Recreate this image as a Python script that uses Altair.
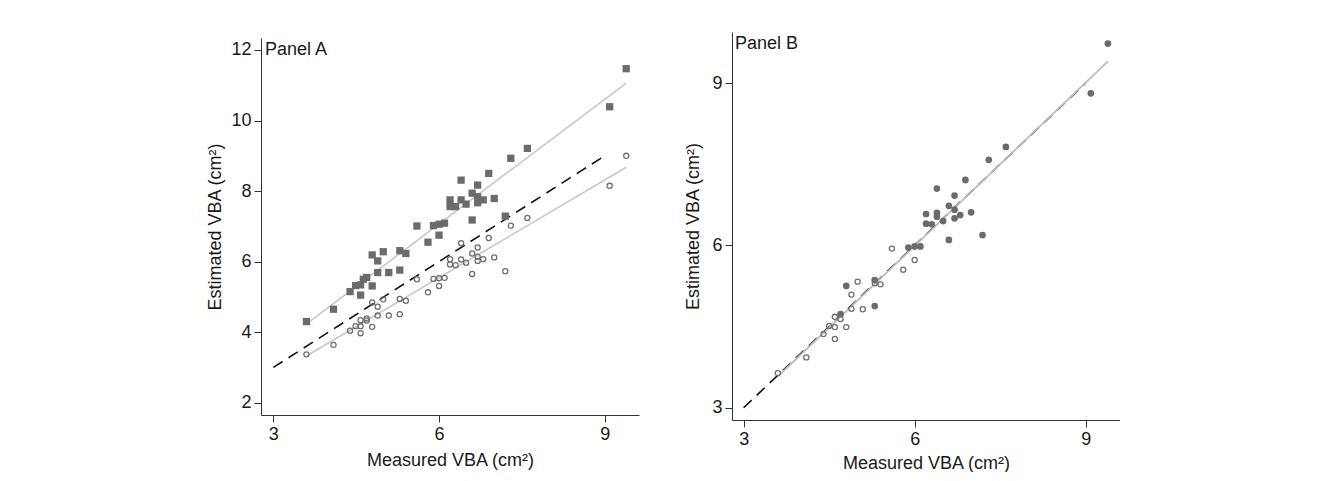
import altair as alt
import pandas as pd

# ---------------- data ----------------
# Panel A: filled squares
a_sq_x = [3.60, 4.09, 4.39, 4.49, 4.58, 4.58, 4.63, 4.69, 4.79, 4.79, 4.89, 4.89, 4.99, 5.09,
          5.29, 5.29, 5.40, 5.60, 5.80, 5.90, 6.00, 6.00, 6.10, 6.20, 6.20, 6.30, 6.40, 6.40,
          6.49, 6.60, 6.60, 6.70, 6.70, 6.70, 6.80, 6.90, 7.00, 7.20, 7.30, 7.60, 9.09, 9.39]
a_sq_y = [4.30, 4.65, 5.15, 5.32, 5.05, 5.34, 5.50, 5.55, 5.31, 6.19, 6.02, 5.69, 6.28, 5.69,
          6.31, 5.76, 6.23, 7.01, 6.55, 7.02, 6.75, 7.06, 7.09, 7.75, 7.56, 7.56, 8.31, 7.75,
          7.63, 7.94, 7.18, 8.17, 7.67, 7.84, 7.75, 8.50, 7.79, 7.29, 8.93, 9.21, 10.39, 11.47]
# Panel A: open circles
a_ci_x = [3.60, 4.09, 4.39, 4.49, 4.58, 4.58, 4.58, 4.69, 4.69, 4.79, 4.79, 4.89, 4.89, 4.99,
          5.09, 5.29, 5.29, 5.40, 5.60, 5.80, 5.90, 6.00, 6.00, 6.10, 6.20, 6.20, 6.30, 6.40,
          6.40, 6.49, 6.60, 6.60, 6.70, 6.70, 6.70, 6.80, 6.90, 7.00, 7.20, 7.30, 7.60, 9.09, 9.39]
a_ci_y = [3.37, 3.64, 4.04, 4.17, 3.97, 4.34, 4.17, 4.33, 4.39, 4.15, 4.84, 4.72, 4.47, 4.93,
          4.47, 4.51, 4.94, 4.89, 5.50, 5.13, 5.51, 5.31, 5.53, 5.54, 6.07, 5.92, 5.90, 6.52,
          6.06, 5.97, 6.23, 5.65, 6.40, 6.14, 6.02, 6.07, 6.67, 6.12, 5.73, 7.02, 7.24, 8.15, 9.00]
# Panel B: filled circles
b_f_x = [9.39, 9.09, 7.60, 7.30, 6.89, 6.39, 6.70, 6.60, 6.70, 6.99, 6.20, 6.39, 6.39, 6.80,
         6.70, 6.50, 6.20, 6.30, 7.19, 6.60, 5.89, 6.00, 6.10, 4.80, 5.30, 5.30, 4.70]
b_f_y = [9.73, 8.81, 7.82, 7.58, 7.21, 7.05, 6.92, 6.73, 6.66, 6.61, 6.58, 6.60, 6.53, 6.56,
         6.50, 6.45, 6.40, 6.39, 6.19, 6.10, 5.96, 5.98, 5.98, 5.25, 5.36, 4.88, 4.73]
# Panel B: open circles
b_o_x = [3.60, 4.10, 4.40, 4.50, 4.60, 4.60, 4.60, 4.70, 4.80, 4.89, 4.89, 5.00, 5.09, 5.30,
         5.40, 5.60, 5.80, 6.00]
b_o_y = [3.64, 3.93, 4.36, 4.51, 4.49, 4.27, 4.68, 4.64, 4.49, 4.83, 5.09, 5.33, 4.82, 5.30,
         5.28, 5.94, 5.55, 5.73]

identity_vals = [3, 9]
a_yticks = [2, 4, 6, 8, 10, 12]
b_yticks = [3, 6, 9]
xticks = [3, 6, 9]

# ---------------- styling ----------------
FONT = "Liberation Sans"
MARK = "#6b6b6b"
OPEN = "#6f6f6f"
FIT = "#c8c8c8"
AXC = "#333333"
TXT = "#1a1a1a"


def axis(values, title, tpad):
    return alt.Axis(values=values, title=title, grid=False, tickSize=7, tickColor=AXC,
                    domainColor=AXC, labelFont=FONT, titleFont=FONT, labelFontSize=18,
                    titleFontSize=18, labelColor=TXT, titleColor=TXT, titleFontWeight="normal",
                    labelPadding=3, titlePadding=tpad, labelAngle=0, labelFlush=False,
                    labelOverlap=False)


def enc(xdom, ydom, yticks, xpad, ypad):
    x = alt.X("measured:Q", scale=alt.Scale(domain=xdom, nice=False, zero=False),
              axis=axis(xticks, "Measured VBA (cm²)", xpad))
    y = alt.Y("estimated:Q", scale=alt.Scale(domain=ydom, nice=False, zero=False),
              axis=axis(yticks, "Estimated VBA (cm²)", ypad))
    return x, y


def df(xs, ys):
    return pd.DataFrame({"measured": xs, "estimated": ys})


ident = df(identity_vals, identity_vals)

# ---------------- Panel A ----------------
xa, ya = enc([2.777, 9.621], [1.651, 12.34], a_yticks, 8, 6)
A_sq = df(a_sq_x, a_sq_y)
A_ci = df(a_ci_x, a_ci_y)

fitA1 = alt.Chart(A_sq).transform_regression("measured", "estimated").mark_line(
    color=FIT, strokeWidth=1.6).encode(x=xa, y=ya)
fitA2 = alt.Chart(A_ci).transform_regression("measured", "estimated").mark_line(
    color=FIT, strokeWidth=1.6).encode(x=xa, y=ya)
idA = alt.Chart(ident).mark_line(color="#111111", strokeWidth=1.6,
                                 strokeDash=[11, 7]).encode(x=xa, y=ya)
sqA = alt.Chart(A_sq).mark_point(shape="square", filled=True, size=53, color=MARK,
                                 opacity=1).encode(x=xa, y=ya)
ciA = alt.Chart(A_ci).mark_point(shape="circle", filled=False, size=26, color=OPEN,
                                 strokeWidth=1.3, opacity=1).encode(x=xa, y=ya)
labA = alt.Chart(pd.DataFrame({"t": ["Panel A"]})).mark_text(
    align="left", baseline="middle", font=FONT, fontSize=18, color=TXT).encode(
    text="t:N", x=alt.value(4), y=alt.value(12))

panelA = alt.layer(fitA1, fitA2, idA, sqA, ciA, labA).properties(width=378, height=377)

# small invisible spacer so that panel A sits a few pixels lower than panel B
spacer = alt.Chart(pd.DataFrame({"t": [0]})).mark_rule(opacity=0).encode(
    x=alt.value(0), y=alt.value(0), y2=alt.value(6)).properties(width=10, height=6)
colA = alt.vconcat(spacer, panelA, spacing=0)

# ---------------- Panel B ----------------
xb, yb = enc([2.796, 9.602], [2.773, 9.943], b_yticks, 6, 9)
B_f = df(b_f_x, b_f_y)
B_o = df(b_o_x, b_o_y)
B_all = df(b_f_x + b_o_x, b_f_y + b_o_y)

idB = alt.Chart(ident).mark_line(color="#111111", strokeWidth=1.6,
                                 strokeDash=[11, 7]).encode(x=xb, y=yb)
fitB = alt.Chart(B_all).transform_regression("measured", "estimated").mark_line(
    color="#bdbdbd", strokeWidth=1.8).encode(x=xb, y=yb)
fB = alt.Chart(B_f).mark_point(shape="circle", filled=True, size=45, color=MARK,
                               opacity=1).encode(x=xb, y=yb)
oB = alt.Chart(B_o).mark_point(shape="circle", filled=False, size=26, color=OPEN,
                               strokeWidth=1.3, opacity=1).encode(x=xb, y=yb)
labB = alt.Chart(pd.DataFrame({"t": ["Panel B"]})).mark_text(
    align="left", baseline="middle", font=FONT, fontSize=18, color=TXT).encode(
    text="t:N", x=alt.value(3), y=alt.value(12))

panelB = alt.layer(idB, fitB, fB, oB, labB).properties(width=388, height=388)

chart = alt.hconcat(colA, panelB, spacing=45).configure_view(stroke=None).properties(
    padding={"left": 198, "top": 24, "right": 0, "bottom": 0})

chart.save("out.html", embed_options={"renderer": "svg", "actions": False})
